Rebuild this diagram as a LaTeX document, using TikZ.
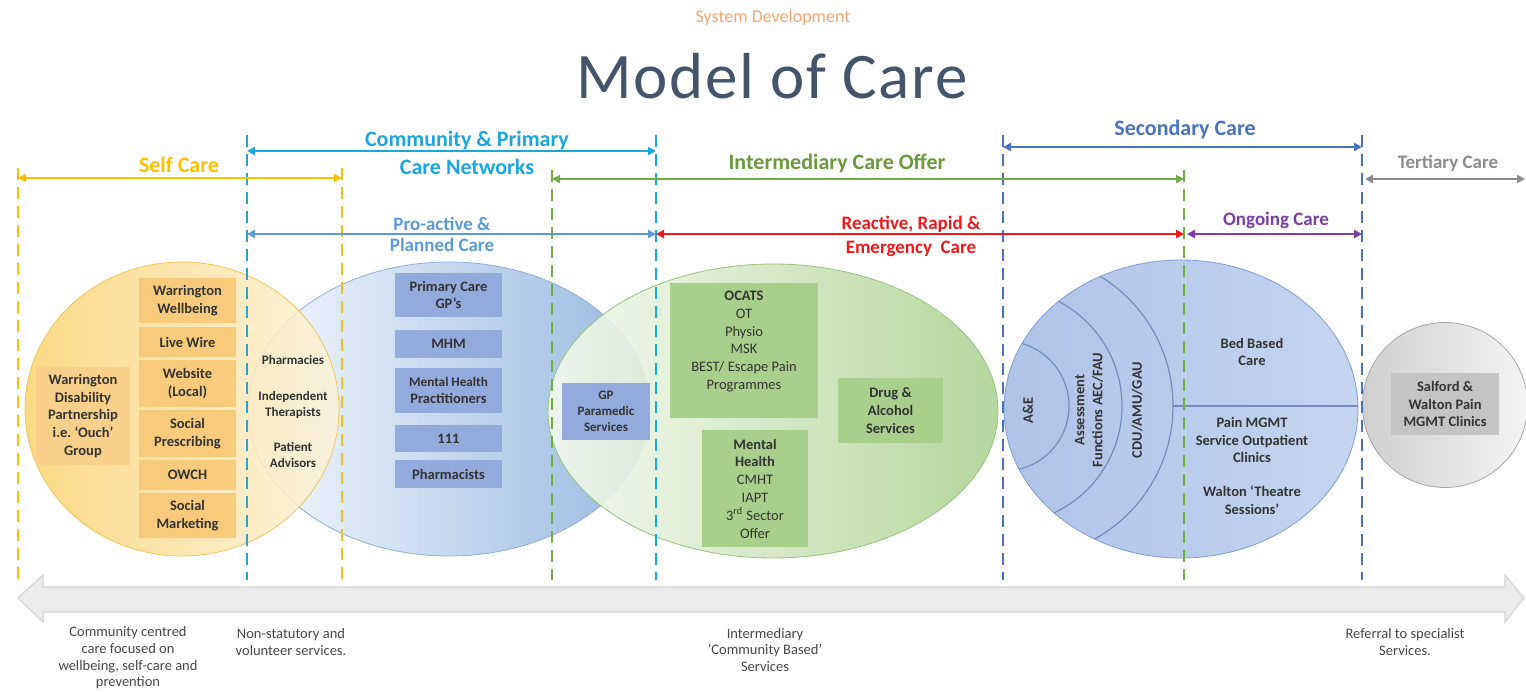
\documentclass[tikz,border=0pt]{standalone}
\usepackage{fontspec}
\setmainfont{Carlito}
\newfontfamily\titlefont[LetterSpace=2.5]{Carlito}
\usetikzlibrary{arrows.meta,positioning}

\definecolor{selfc}{HTML}{FFC000}
\definecolor{commc}{HTML}{1AA7E0}
\definecolor{interc}{HTML}{70AD47}
\definecolor{interl}{HTML}{6A9A3E}
\definecolor{secc}{HTML}{4A72C4}
\definecolor{terc}{HTML}{8C8C8C}
\definecolor{proc}{HTML}{5B9BD5}
\definecolor{reac}{HTML}{F01818}
\definecolor{ongc}{HTML}{7A3FA6}
\definecolor{titlec}{HTML}{44546A}
\definecolor{sysc}{HTML}{F4A66E}
\definecolor{txtc}{HTML}{333333}
\definecolor{yelfill}{HTML}{F8CB7C}
\definecolor{bluefill}{HTML}{93ABDC}
\definecolor{grnfill}{HTML}{A8CF8C}
\definecolor{grayfill}{HTML}{C4C4C4}
\definecolor{yelL}{HTML}{F9D26E}
\definecolor{yelR}{HTML}{FDF3DA}
\definecolor{yelbd}{HTML}{F3C557}
\definecolor{blueL}{HTML}{F3F8FD}
\definecolor{blueR}{HTML}{98B9E0}
\definecolor{bluebd}{HTML}{8EAFD8}
\definecolor{grnL}{HTML}{F4F9EF}
\definecolor{grnR}{HTML}{ADD293}
\definecolor{grnbd}{HTML}{96C47A}
\definecolor{secL}{HTML}{AFC3E7}
\definecolor{secR}{HTML}{C5D5F0}
\definecolor{secbd}{HTML}{7E9DD3}
\definecolor{grayL}{HTML}{CFCFCF}
\definecolor{grayR}{HTML}{F4F4F4}
\definecolor{arrowfill}{HTML}{EBEBEB}
\definecolor{arrowbd}{HTML}{D3D3D3}

\tikzset{
  guideline/.style={line width=0.8pt, dash pattern=on 6pt off 3.5pt},
  spanarrow/.style={line width=1pt, {Triangle[length=4pt,width=4pt]}-{Triangle[length=4pt,width=4pt]}},
  headlbl/.style={font=\bfseries\fontsize{11}{14}\selectfont, align=center, inner sep=0pt},
  sublbl/.style={font=\bfseries\fontsize{9.5}{11}\selectfont, align=center, inner sep=0pt},
  boxtxt/.style={font=\bfseries\fontsize{7.25}{8.9}\selectfont, text=txtc, align=center, inner sep=0pt},
  smalltxt/.style={font=\bfseries\fontsize{6.5}{8}\selectfont, text=txtc, align=center, inner sep=0pt},
  plaintxt/.style={font=\fontsize{7.25}{8.9}\selectfont, text=txtc, align=center, inner sep=0pt},
  yelbox/.style={boxtxt, fill=yelfill, minimum width=48.5pt},
  bluebox/.style={boxtxt, fill=bluefill, minimum width=53.5pt},
  grnbox/.style={boxtxt, fill=grnfill},
  arcline/.style={draw=secbd!90!black, line width=0.6pt},
  foot/.style={font=\fontsize{7.25}{8.3}\selectfont, text=txtc!90, align=center, inner sep=0pt},
}

\begin{document}
\begin{tikzpicture}[x=0.5pt,y=-0.5pt]
  \useasboundingbox (0,0) rectangle (1526,691);

  \node[font=\fontsize{9}{10}\selectfont, text=sysc] (sys) at (773,18) {System Development};
  \node[font=\titlefont\fontsize{32.5}{36}\selectfont, text=titlec, anchor=base] (title) at (772,98) {Model of Care};

  \draw[draw=bluebd, left color=blueL, right color=blueR] (449,409) ellipse [x radius=100.5pt, y radius=73.5pt];
  \draw[draw=yelbd, left color=yelL, right color=yelR, fill opacity=0.85] (182,409) ellipse [x radius=78.5pt, y radius=73.5pt];
  \draw[draw=grnbd, left color=grnL, right color=grnR, fill opacity=0.9] (773,411) ellipse [x radius=112.5pt, y radius=73.5pt];
  \draw[draw=secbd, left color=secL, right color=secR] (1181,409) ellipse [x radius=88.5pt, y radius=74.5pt];
  \draw[draw=grayL!80!black, left color=grayL, right color=grayR] (1445,405) circle [radius=41.25pt];

  \begin{scope}
    \clip (1181,409) ellipse [x radius=88.5pt, y radius=74.5pt];
    \draw[arcline] (1004,406) circle [radius=32.5pt];
    \draw[arcline] (1004,406) circle [radius=59pt];
    \draw[arcline] (1021,406) circle [radius=76pt];
  \end{scope}
  \coordinate (cdu-r) at (1173,406);
  \coordinate (sec-r) at (1358,406);
  \draw[arcline] (cdu-r) -- (sec-r);

  \foreach \gx/\gy/\gc in {18/168/selfc, 342/168/selfc, 247/135/commc, 656/135/commc,
      552/170/interc, 1184/170/interc, 1003/135/secc, 1362/135/secc}
    \draw[guideline, \gc] (\gx,\gy) -- (\gx,580);

  \coordinate (self-l) at (18,178);   \coordinate (self-r) at (342,178);
  \coordinate (comm-l) at (247,151);  \coordinate (comm-r) at (656,151);
  \coordinate (inter-l) at (552,179); \coordinate (inter-r) at (1184,179);
  \coordinate (sec-l) at (1003,147);  \coordinate (sec-rr) at (1362,147);
  \coordinate (ter-l) at (1365,179);  \coordinate (ter-r) at (1525,179);
  \coordinate (pro-l) at (247,234);   \coordinate (pro-r) at (656,234);
  \coordinate (rea-l) at (656,234);   \coordinate (rea-r) at (1184,234);
  \coordinate (ong-l) at (1187,234);  \coordinate (ong-r) at (1362,234);
  \draw[spanarrow, selfc] (self-l) -- (self-r);
  \draw[spanarrow, commc] (comm-l) -- (comm-r);
  \draw[spanarrow, interc] (inter-l) -- (inter-r);
  \draw[spanarrow, secc] (sec-l) -- (sec-rr);
  \draw[spanarrow, terc] (ter-l) -- (ter-r);
  \draw[spanarrow, proc] (pro-l) -- (pro-r);
  \draw[spanarrow, reac] (rea-l) -- (rea-r);
  \draw[spanarrow, ongc] (ong-l) -- (ong-r);

  \node[headlbl, text=selfc] (selfcare) at (179,165) {Self Care};
  \node[headlbl, text=commc] (pcn) at (467,153) {Community \& Primary\\Care Networks};
  \node[headlbl, text=interl] (interm) at (837,163) {Intermediary Care Offer};
  \node[headlbl, text=secc] (second) at (1185,130) {Secondary Care};
  \node[sublbl, text=terc] (tertiary) at (1448,163) {Tertiary Care};
  \node[sublbl, text=proc, font=\bfseries\fontsize{9.5}{10.5}\selectfont] (proactive) at (442,234) {Pro-active \&\\Planned Care};
  \node[sublbl, text=reac, font=\bfseries\fontsize{9.5}{12}\selectfont] (reactive) at (911,236) {Reactive, Rapid \&\\Emergency\ \ Care};
  \node[sublbl, text=ongc] (ongoing) at (1276,220) {Ongoing Care};

  \node[yelbox, minimum height=22.5pt] (wellbeing) at (187.5,300.5) {Warrington\\Wellbeing};
  \node[yelbox, minimum height=15pt] (livewire) at (187.5,342) {Live Wire};
  \node[yelbox, minimum height=23.5pt] (website) at (187.5,383.5) {Website\\(Local)};
  \node[yelbox, minimum height=23.5pt] (socpres) at (187.5,433.5) {Social\\Prescribing};
  \node[yelbox, minimum height=15pt] (owch) at (187.5,475) {OWCH};
  \node[yelbox, minimum height=22.5pt] (socmark) at (187.5,515.5) {Social\\Marketing};
  \node[yelbox, fill=yelfill!90!white, minimum width=47pt, minimum height=49pt] (ouch) at (83,416) {Warrington\\Disability\\Partnership\\i.e.\ `Ouch'\\Group};

  \node[smalltxt] (pharmacies) at (293,360) {Pharmacies};
  \node[smalltxt] (indep) at (293,405) {Independent\\Therapists};
  \node[smalltxt] (advisors) at (293,455) {Patient\\Advisors};

  \node[bluebox, minimum height=22pt] (gps) at (448.5,295) {Primary Care\\GP's};
  \node[bluebox, minimum height=14pt] (mhm) at (448.5,344) {MHM};
  \node[bluebox, minimum height=22.5pt] (mhp) at (448.5,390.5) {{\fontsize{6.6}{8.9}\selectfont Mental Health}\\Practitioners};
  \node[bluebox, minimum height=13.5pt] (nhs111) at (448.5,438.5) {111};
  \node[bluebox, minimum height=14pt] (pharmacists) at (448.5,474) {Pharmacists};

  \node[bluebox, smalltxt, fill=bluefill, minimum width=44pt, minimum height=28.5pt] (paramedic) at (606,411.5) {GP\\Paramedic\\Services};

  \node[grnbox, minimum width=74pt, minimum height=67.5pt] (ocats) at (744,350.5) {};
  \node[plaintxt, below=4pt of ocats.north] (ocatstxt) {\textbf{OCATS}\\OT\\Physio\\MSK\\BEST/ Escape Pain\\Programmes};
  \node[grnbox, minimum width=53pt, minimum height=58.5pt] (mental) at (755,488.5) {Mental\\Health\\\mdseries CMHT\\\mdseries IAPT\\\mdseries 3\textsuperscript{rd} Sector\\\mdseries Offer};
  \node[grnbox, minimum width=52.5pt, minimum height=32.5pt] (drug) at (890.5,410.5) {Drug \&\\Alcohol\\Services};

  \node[boxtxt, rotate=90] (ae) at (1028,410) {A\&E};
  \node[boxtxt, rotate=90] (assess) at (1089,410) {Assessment\\Functions AEC/FAU};
  \node[boxtxt, rotate=90] (cdu) at (1137,410) {CDU/AMU/GAU};
  \node[boxtxt] (bedbased) at (1252,352) {Bed Based\\Care};
  \node[boxtxt] (painmgmt) at (1252,440) {Pain MGMT\\Service Outpatient\\Clinics};
  \node[boxtxt] (walton) at (1252,500) {Walton `Theatre\\Sessions'};

  \node[boxtxt, fill=grayfill, minimum width=54pt, minimum height=31pt] (salford) at (1445,404) {Salford \&\\Walton Pain\\MGMT Clinics};

  \draw[fill=arrowfill, draw=arrowbd, line width=0.6pt] (18,598) -- (43,575) -- (43,587) -- (1505,587)
    -- (1505,575) -- (1524,598) -- (1505,622) -- (1505,612) -- (43,612) -- (43,622) -- cycle;

  \node[foot] (foot1) at (128,658) {Community centred\\care focused on\\wellbeing, self-care and\\prevention};
  \node[foot] (foot2) at (291,642) {Non-statutory and\\volunteer services.};
  \node[foot] (foot3) at (765,650) {Intermediary\\`Community Based'\\Services};
  \node[foot] (foot4) at (1405,642) {Referral to specialist\\Services.};
\end{tikzpicture}
\end{document}
